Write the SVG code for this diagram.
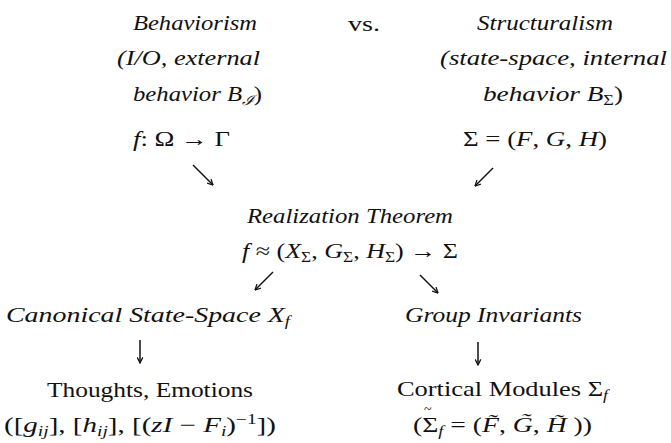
<svg xmlns="http://www.w3.org/2000/svg" width="671" height="443" viewBox="0 0 671 443">
<style>
text{font-family:"Liberation Serif","DejaVu Serif",serif;font-size:21px;fill:#111}
.it{font-style:italic}
.up{font-style:normal}
.sub{font-size:14px}
.tl{font-size:14px}
.conn line{stroke:#111;stroke-width:1.5;fill:none;marker-end:url(#ah)}
</style>
<defs>
<marker id="ah" viewBox="0 0 10 10" refX="9" refY="5" markerWidth="7" markerHeight="7" markerUnits="userSpaceOnUse" orient="auto">
<path d="M1,1 L9,5 L1,9" fill="none" stroke="#111" stroke-width="1.8"/>
</marker>
</defs>
<rect width="671" height="443" fill="#fff"/>
<g id="behaviorism">
<text class="it" x="133" y="30" textLength="124" lengthAdjust="spacingAndGlyphs">Behaviorism</text>
<text class="it" x="117" y="65" textLength="143" lengthAdjust="spacingAndGlyphs">(I/O, external</text>
<text class="it" x="133" y="101" textLength="129" lengthAdjust="spacingAndGlyphs">behavior B<tspan class="sub" dy="4">ℐ</tspan><tspan class="up" dy="-4">)</tspan></text>
<text x="133" y="146" textLength="97" lengthAdjust="spacingAndGlyphs"><tspan class="it">f</tspan>: Ω → Γ</text>
</g>
<g id="vs">
<text x="348" y="31" textLength="32" lengthAdjust="spacingAndGlyphs">vs.</text>
</g>
<g id="structuralism">
<text class="it" x="477" y="30" textLength="136" lengthAdjust="spacingAndGlyphs">Structuralism</text>
<text class="it" x="440" y="65" textLength="227" lengthAdjust="spacingAndGlyphs">(state-space, internal</text>
<text class="it" x="483" y="101" textLength="140" lengthAdjust="spacingAndGlyphs">behavior B<tspan class="sub up" dy="4">Σ</tspan><tspan class="up" dy="-4">)</tspan></text>
<text x="463" y="146" textLength="144" lengthAdjust="spacingAndGlyphs">Σ = (<tspan class="it">F</tspan>, <tspan class="it">G</tspan>, <tspan class="it">H</tspan>)</text>
</g>
<g id="realization">
<text class="it" x="247" y="223" textLength="206" lengthAdjust="spacingAndGlyphs">Realization Theorem</text>
<text x="242" y="258" textLength="216" lengthAdjust="spacingAndGlyphs"><tspan class="it">f</tspan> ≈ (<tspan class="it">X</tspan><tspan class="sub" dy="4">Σ</tspan><tspan dy="-4">, </tspan><tspan class="it">G</tspan><tspan class="sub" dy="4">Σ</tspan><tspan dy="-4">, </tspan><tspan class="it">H</tspan><tspan class="sub" dy="4">Σ</tspan><tspan dy="-4">) → Σ</tspan></text>
</g>
<g id="canonical">
<text class="it" x="6" y="322" textLength="284" lengthAdjust="spacingAndGlyphs">Canonical State-Space X<tspan class="sub" dy="4">f</tspan></text>
</g>
<g id="group-invariants">
<text class="it" x="405" y="322" textLength="177" lengthAdjust="spacingAndGlyphs">Group Invariants</text>
</g>
<g id="thoughts">
<text x="47" y="397" textLength="206" lengthAdjust="spacingAndGlyphs">Thoughts, Emotions</text>
<text x="4" y="432" textLength="272" lengthAdjust="spacingAndGlyphs">([<tspan class="it">g</tspan><tspan class="sub it" dy="4">ij</tspan><tspan dy="-4">], [</tspan><tspan class="it">h</tspan><tspan class="sub it" dy="4">ij</tspan><tspan dy="-4">], [(</tspan><tspan class="it">zI</tspan> − <tspan class="it">F</tspan><tspan class="sub it" dy="4">i</tspan><tspan dy="-4">)</tspan><tspan class="sub" dy="-8">−1</tspan><tspan dy="8">])</tspan></text>
</g>
<g id="cortical">
<text x="397" y="396" textLength="211" lengthAdjust="spacingAndGlyphs">Cortical Modules Σ<tspan class="sub it" dy="4">f</tspan></text>
<text x="413" y="432" textLength="179" lengthAdjust="spacingAndGlyphs">(Σ<tspan class="sub it" dy="4">f</tspan><tspan dy="-4"> = (</tspan><tspan class="it">F̃</tspan>, <tspan class="it">G̃</tspan>, <tspan class="it">H̃</tspan> ))</text>
<text class="tl" x="424" y="414">~</text>
</g>
<g id="connectors" class="conn">
<line x1="193" y1="165" x2="213" y2="185"/>
<line x1="493" y1="168" x2="475" y2="186"/>
<line x1="273" y1="272" x2="255" y2="290"/>
<line x1="420" y1="275" x2="438" y2="293"/>
<line x1="140" y1="340" x2="140" y2="363"/>
<line x1="478" y1="342" x2="478" y2="365"/>
</g>
</svg>
